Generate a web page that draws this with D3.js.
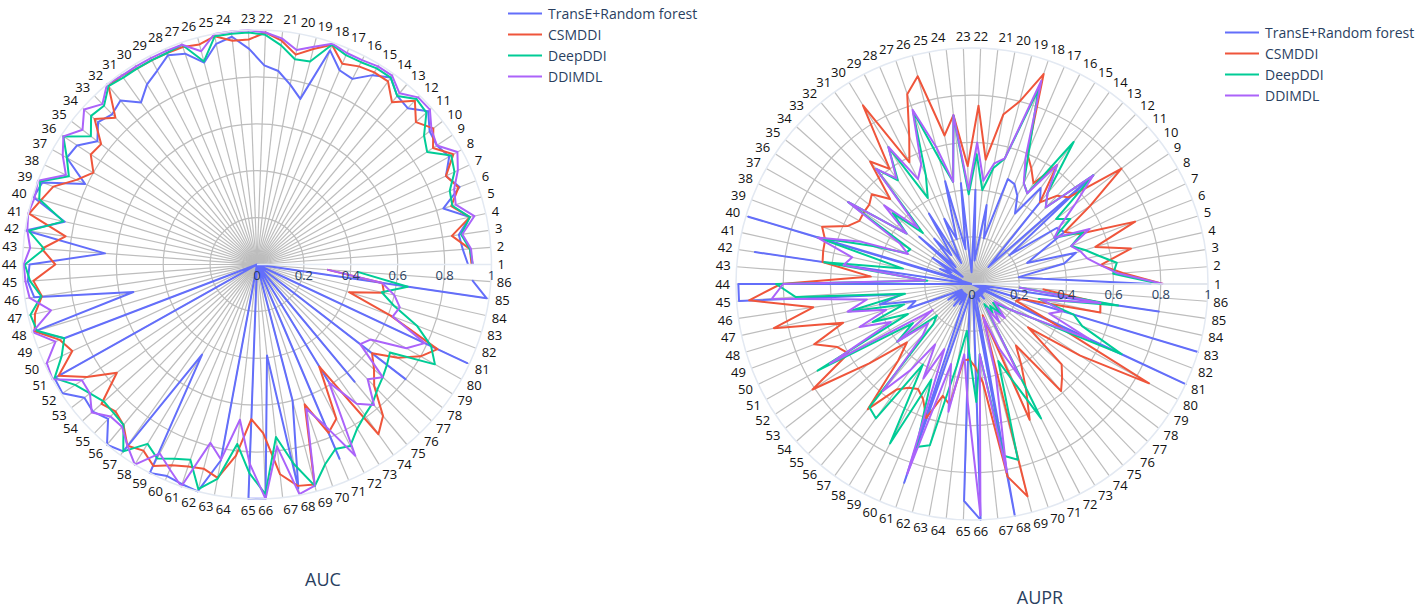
<!DOCTYPE html>
<html><head><meta charset="utf-8">
<script src="https://cdn.jsdelivr.net/npm/d3@7"></script>
<style>body{margin:0;background:#fff}svg{display:block}</style>
</head><body>
<svg id="chart" width="1424" height="608"></svg>
<script>
const categories = d3.range(1, 87).map(String);
const seriesNames = ["TransE+Random forest", "CSMDDI", "DeepDDI", "DDIMDL"];
const seriesColors = ["#636efa", "#EF553B", "#00cc96", "#ab63fa"];
const radialTicks = [0, 0.2, 0.4, 0.6, 0.8, 1];
const radialTickLabels = ["0", "0.2", "0.4", "0.6", "0.8", "1"];
const chartTitles = ["AUC", "AUPR"];

const aucTransE = [0.90,0.88,0.87,0.93,0.83,0.925,0.89,0.94,0.92,0.93,
 0.98,0.926,0.935,0.98,0.946,0.89,0.90,0.965,0.73,0.78,
 0.83,0.85,0.92,0.977,0.957,0.89,0.95,0.97,0.93,0.90,
 0.85,0.91,0.89,0.91,0.86,0.92,0.93,0.81,0.98,0.995,
 0.84,0.997,0.65,0.97,0.98,0.96,0.54,0.99,0.88,0.0,
 0.99,0.995,0.93,0.94,0.915,1.0,0.98,0.45,1.0,0.98,
 0.99,1.0,0.85,0.0,1.0,1.0,0.39,0.97,0.6,0.0,
 0.9,0.0,0.6,0.0,0.65,0.0,0.0,0.8,0.0,0.0,
 0.99,0.0,0.0,0.0,0.99,0.92];
const aucCSMDDI = [0.915,0.91,0.84,0.93,0.865,0.92,0.89,0.96,0.90,0.95,
 0.91,0.97,0.90,0.96,0.96,0.95,0.93,0.99,0.95,0.91,
 0.96,0.99,0.96,0.96,0.99,0.97,0.98,0.98,0.98,0.98,
 0.99,0.99,0.87,0.93,0.84,0.85,0.80,0.85,0.93,0.96,
 0.996,0.825,0.92,0.86,0.956,0.927,0.97,0.99,0.9,0.87,
 0.97,0.87,0.755,0.89,0.87,0.89,0.95,0.93,0.966,0.93,
 0.91,0.90,0.925,0.82,0.66,0.72,0.9,0.96,0.97,0.63,
 0.78,0.74,0.51,0.89,0.84,0.72,0.67,0.62,0.72,0.8,
 0.85,0.61,0.41,0.555,0.54,0.30];
const aucDeepDDI = [0.92,0.91,0.88,0.93,0.87,0.88,0.93,0.95,0.87,0.90,
 0.97,0.98,0.935,0.98,0.98,0.97,0.97,0.99,0.895,0.89,
 0.94,0.98,0.99,0.99,0.99,0.895,0.99,0.98,0.98,0.98,
 0.98,0.99,0.94,0.95,0.895,0.99,0.93,0.886,0.99,0.97,
 0.846,0.984,0.91,0.99,0.97,0.93,0.99,0.98,0.88,0.92,
 0.99,0.93,0.90,0.876,0.88,0.89,0.98,0.896,0.93,0.9,
 0.88,0.99,0.93,0.77,0.89,0.98,0.74,0.865,0.976,0.9,
 0.855,0.87,0.82,0.79,0.77,0.74,0.72,0.70,0.68,0.87,
 0.82,0.73,0.61,0.545,0.65,0.43];
const aucDDIMDL = [0.92,0.915,0.885,0.95,0.885,0.90,0.946,0.98,0.92,0.94,
 0.99,0.99,0.95,0.99,0.99,0.98,0.98,0.995,0.96,0.93,
 0.97,0.99,1.0,1.0,1.0,0.94,0.99,0.99,0.99,0.99,
 0.99,1.0,0.95,0.99,0.94,0.99,0.95,0.90,1.0,0.99,
 1.0,0.99,0.97,0.995,0.99,0.98,0.90,1.0,0.92,0.99,
 1.0,0.895,0.9,0.946,0.90,0.90,0.95,1.0,0.906,0.95,
 1.0,0.786,0.846,0.666,0.85,1.0,0.78,0.996,0.975,0.65,
 0.75,0.917,0.59,0.73,0.78,0.68,0.72,0.556,0.58,0.73,
 0.79,0.62,0.636,0.6,0.54,0.30];

const auprTransE = [0.76,0.30,0.20,0.40,0.46,0.25,0.32,0.45,0.43,0.20,
 0.69,0.10,0.45,0.50,0.35,0.42,0.46,0.47,0.20,0.34,
 0.10,0.40,0.05,0.43,0.15,0.45,0.20,0.30,0.10,0.35,
 0.15,0.25,0.10,0.30,0.05,0.20,0.10,0.15,0.05,0.99,
 0.00,0.93,0.00,0.99,0.99,0.30,0.40,0.25,0.29,0.10,
 0.05,0.12,0.05,0.10,0.05,0.12,0.05,0.10,0.05,0.12,
 0.89,0.10,0.05,0.10,0.92,1.00,0.05,1.00,0.08,0.04,
 0.08,0.04,0.06,0.04,0.08,0.04,0.06,0.04,0.06,0.05,
 1.00,0.00,1.00,0.00,0.80,0.00];
const auprCSMDDI = [0.81,0.64,0.55,0.69,0.546,0.74,0.50,0.45,0.60,0.80,
 0.55,0.52,0.45,0.62,0.50,0.55,0.60,0.94,0.80,0.73,
 0.53,0.756,0.50,0.72,0.64,0.91,0.85,0.68,0.58,0.887,
 0.60,0.675,0.50,0.57,0.55,0.55,0.547,0.58,0.68,0.65,
 0.646,0.64,0.43,0.81,0.947,0.68,0.86,0.57,0.716,0.63,
 0.60,0.81,0.55,0.37,0.45,0.69,0.55,0.515,0.50,0.53,
 0.60,0.49,0.52,0.325,0.32,0.35,0.42,0.83,0.93,0.14,
 0.625,0.50,0.40,0.32,0.59,0.55,0.51,0.30,0.55,0.86,
 0.35,0.20,0.22,0.557,0.55,0.30];
const auprDeepDDI = [0.80,0.60,0.62,0.55,0.50,0.45,0.52,0.40,0.50,0.45,
 0.69,0.45,0.50,0.74,0.45,0.48,0.62,0.87,0.55,0.50,
 0.40,0.55,0.38,0.717,0.44,0.55,0.775,0.50,0.41,0.68,
 0.54,0.635,0.30,0.45,0.35,0.63,0.30,0.31,0.45,0.685,
 0.30,0.633,0.19,0.83,0.75,0.287,0.536,0.30,0.45,0.30,
 0.75,0.30,0.40,0.20,0.236,0.68,0.70,0.40,0.76,0.44,
 0.73,0.706,0.35,0.20,0.30,0.50,0.30,0.74,0.77,0.345,
 0.45,0.64,0.10,0.15,0.12,0.18,0.12,0.15,0.20,0.30,
 0.70,0.50,0.45,0.29,0.626,0.20];
const auprDDIMDL = [0.81,0.62,0.55,0.50,0.48,0.45,0.55,0.40,0.45,0.55,
 0.69,0.45,0.50,0.62,0.45,0.48,0.58,0.91,0.55,0.52,
 0.44,0.60,0.40,0.72,0.44,0.60,0.78,0.55,0.50,0.68,
 0.55,0.635,0.33,0.50,0.35,0.63,0.35,0.30,0.50,0.685,
 0.52,0.55,0.20,0.80,0.85,0.45,0.54,0.38,0.51,0.38,
 0.69,0.20,0.40,0.25,0.30,0.59,0.45,0.30,0.45,0.30,
 0.85,0.35,0.55,0.30,0.50,0.98,0.30,0.81,0.40,0.15,
 0.30,0.45,0.12,0.20,0.15,0.20,0.15,0.12,0.20,0.30,
 0.55,0.35,0.40,0.30,0.55,0.20];

const panels = [
  {cx: 257, cy: 264.5, R: 234.5, series: [aucTransE, aucCSMDDI, aucDeepDDI, aucDDIMDL],
   legendX: 508, legendY: 13.5, title: chartTitles[0], titleX: 323, titleY: 580},
  {cx: 972, cy: 284, R: 236, series: [auprTransE, auprCSMDDI, auprDeepDDI, auprDDIMDL],
   legendX: 1225, legendY: 32.5, title: chartTitles[1], titleX: 1040, titleY: 598}
];

const svg = d3.select("#chart");
const font = "'Open Sans', verdana, arial, sans-serif";
const step = 2 * Math.PI / categories.length;
const theta = d3.scalePoint().domain(categories).range([0, step * (categories.length - 1)]);

panels.forEach(p => {
  const r = d3.scaleLinear().domain([0, 1]).range([0, p.R]);
  const g = svg.append("g").attr("transform", `translate(${p.cx},${p.cy})`);
  g.append("g").selectAll("circle").data(radialTicks.filter(t => t > 0 && t < 1)).join("circle")
    .attr("r", d => r(d)).attr("fill", "none").attr("stroke", "#bdbdbd").attr("stroke-width", 1.2);
  g.append("g").selectAll("line").data(categories).join("line")
    .attr("x1", 0).attr("y1", 0)
    .attr("x2", d => r(1) * Math.cos(theta(d)))
    .attr("y2", d => -r(1) * Math.sin(theta(d)))
    .attr("stroke", "#bdbdbd").attr("stroke-width", 1.2);
  const line = d3.lineRadial()
    .angle(d => Math.PI / 2 - theta(d.c))
    .radius(d => r(d.v));
  p.series.forEach((vals, si) => {
    const pts = categories.map((c, i) => ({c, v: vals[i]}));
    g.append("path").attr("d", line(pts)).attr("fill", "none")
      .attr("stroke", seriesColors[si]).attr("stroke-width", 2).attr("stroke-linejoin", "round");
  });
  g.append("circle").attr("r", r(1)).attr("fill", "none").attr("stroke", "#e3e9f2").attr("stroke-width", 1.5);
  g.append("line").attr("x1", 0).attr("y1", 0).attr("x2", r(1)).attr("y2", 0)
    .attr("stroke", "#e3e9f2").attr("stroke-width", 1.5);
  g.append("g").selectAll("text").data(radialTicks).join("text")
    .attr("x", d => r(d)).attr("y", 15)
    .attr("text-anchor", "middle")
    .attr("font-family", font).attr("font-size", 13).attr("fill", "#2a3f5f")
    .text((d, i) => radialTickLabels[i]);
  const pad = 6, fs = 13;
  g.append("g").selectAll("text").data(categories).join("text")
    .each(function(d) {
      const a = theta(d), c = Math.cos(a), s = Math.sin(a);
      const rr = r(1) + pad;
      const anchor = c > 0.08 ? "start" : (c < -0.08 ? "end" : "middle");
      d3.select(this)
        .attr("x", rr * c)
        .attr("y", -rr * s + fs * 0.35 - s * fs * 0.45)
        .attr("text-anchor", anchor);
    })
    .attr("font-family", font).attr("font-size", fs).attr("fill", "#111")
    .text(d => d);
  const lg = svg.append("g").attr("transform", `translate(${p.legendX},${p.legendY})`);
  seriesNames.forEach((name, i) => {
    const row = lg.append("g").attr("transform", `translate(0,${i * 21})`);
    row.append("line").attr("x1", 0).attr("x2", 34).attr("y1", 0).attr("y2", 0)
      .attr("stroke", seriesColors[i]).attr("stroke-width", 2);
    row.append("text").attr("x", 40).attr("y", 5).attr("font-family", font)
      .attr("font-size", 14).attr("fill", "#2a3f5f").text(name);
  });
  svg.append("text").attr("x", p.titleX).attr("y", p.titleY + 6).attr("text-anchor", "middle")
    .attr("font-family", font).attr("font-size", 18).attr("fill", "#2a3f5f").text(p.title);
});
</script>
</body></html>
